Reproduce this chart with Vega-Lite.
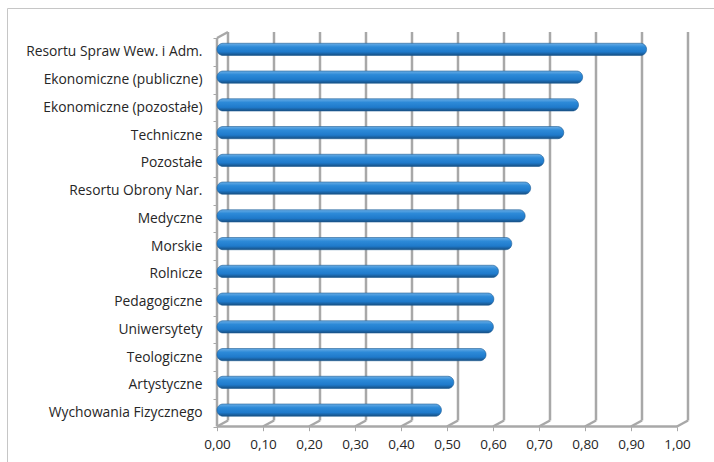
{
  "$schema": "https://vega.github.io/schema/vega-lite/v6.json",
  "autosize": "none",
  "padding": {"left": 7, "top": 8, "right": 0, "bottom": 0},
  "width": 720,
  "height": 470,
  "background": "white",
  "config": {
    "view": {"stroke": "#c6c6c6", "strokeWidth": 1},
    "font": "Open Sans"
  },
  "datasets": {
    "bars": [
      {"kategoria": "Resortu Spraw Wew. i Adm.", "wartosc": 0.923},
      {"kategoria": "Ekonomiczne (publiczne)", "wartosc": 0.784},
      {"kategoria": "Ekonomiczne (pozostałe)", "wartosc": 0.775},
      {"kategoria": "Techniczne", "wartosc": 0.743},
      {"kategoria": "Pozostałe", "wartosc": 0.700},
      {"kategoria": "Resortu Obrony Nar.", "wartosc": 0.671},
      {"kategoria": "Medyczne", "wartosc": 0.659},
      {"kategoria": "Morskie", "wartosc": 0.630},
      {"kategoria": "Rolnicze", "wartosc": 0.601},
      {"kategoria": "Pedagogiczne", "wartosc": 0.591},
      {"kategoria": "Uniwersytety", "wartosc": 0.590},
      {"kategoria": "Teologiczne", "wartosc": 0.574},
      {"kategoria": "Artystyczne", "wartosc": 0.504},
      {"kategoria": "Wychowania Fizycznego", "wartosc": 0.477}
    ],
    "ticks": [
      {"t": 0}, {"t": 0.1}, {"t": 0.2}, {"t": 0.3}, {"t": 0.4}, {"t": 0.5},
      {"t": 0.6}, {"t": 0.7}, {"t": 0.8}, {"t": 0.9}, {"t": 1.0}
    ],
    "wall": [{"sciana": "lewa"}]
  },
  "layer": [
    {
      "data": {"name": "bars"},
      "mark": {
        "type": "bar",
        "height": {"band": 0.44},
        "opacity": 0
      },
      "encoding": {
        "y": {
          "field": "kategoria",
          "type": "nominal",
          "scale": {
            "domain": ["Resortu Spraw Wew. i Adm.", "Ekonomiczne (publiczne)", "Ekonomiczne (pozostałe)", "Techniczne", "Pozostałe", "Resortu Obrony Nar.", "Medyczne", "Morskie", "Rolnicze", "Pedagogiczne", "Uniwersytety", "Teologiczne", "Artystyczne", "Wychowania Fizycznego"],
            "range": [30, 418.5],
            "paddingInner": 0, "paddingOuter": 0
          },
          "axis": {
            "title": null,
            "offset": -210,
            "domain": false,
            "tickBand": "extent",
            "tickSize": 4,
            "tickColor": "#a8a8a8",
            "tickWidth": 1,
            "labelPadding": 11,
            "labelFontSize": 13.8,
            "labelColor": "#262626",
            "labelFont": "Open Sans"
          }
        },
        "x": {
          "field": "wartosc",
          "type": "quantitative",
          "scale": {"domain": [-0.45652, 1.1087], "nice": false, "zero": false},
          "axis": {
            "title": null,
            "offset": -51.3,
            "values": [0, 0.1, 0.2, 0.3, 0.4, 0.5, 0.6, 0.7, 0.8, 0.9, 1.0],
            "labelExpr": "replace(format(datum.value, '.2f'), '.', ',')",
            "grid": false,
            "domain": false,
            "tickSize": 4,
            "tickColor": "#a8a8a8",
            "labelPadding": 7,
            "labelFontSize": 13.5,
            "labelColor": "#262626",
            "labelFont": "Open Sans"
          }
        },
        "x2": {"datum": 0}
      }
    },
    {
      "data": {"name": "ticks"},
      "mark": {"type": "rule", "color": "#a8a8a8", "strokeWidth": 2.5, "xOffset": 11, "yOffset": -6, "y2Offset": -6},
      "encoding": {
        "x": {"field": "t", "type": "quantitative"},
        "y": {"datum": "Resortu Spraw Wew. i Adm.", "type": "nominal", "bandPosition": 0},
        "y2": {"datum": "Wychowania Fizycznego", "bandPosition": 1}
      }
    },
    {
      "data": {"name": "ticks"},
      "mark": {"type": "rule", "color": "#a8a8a8", "strokeWidth": 2.5, "x2Offset": 11, "y2Offset": -6},
      "encoding": {
        "x": {"field": "t", "type": "quantitative"},
        "x2": {"field": "t"},
        "y": {"datum": "Wychowania Fizycznego", "type": "nominal", "bandPosition": 1},
        "y2": {"datum": "Wychowania Fizycznego", "bandPosition": 1}
      }
    },
    {
      "data": {"name": "wall"},
      "mark": {"type": "rule", "color": "#a8a8a8", "strokeWidth": 2.5},
      "encoding": {
        "x": {"datum": 0, "type": "quantitative"},
        "x2": {"datum": 1},
        "y": {"datum": "Wychowania Fizycznego", "type": "nominal", "bandPosition": 1},
        "y2": {"datum": "Wychowania Fizycznego", "bandPosition": 1}
      }
    },
    {
      "data": {"name": "wall"},
      "mark": {"type": "rule", "color": "#a8a8a8", "strokeWidth": 2.5},
      "encoding": {
        "x": {"datum": 0, "type": "quantitative"},
        "y": {"datum": "Resortu Spraw Wew. i Adm.", "type": "nominal", "bandPosition": 0},
        "y2": {"datum": "Wychowania Fizycznego", "bandPosition": 1}
      }
    },
    {
      "data": {"name": "wall"},
      "mark": {"type": "rule", "color": "#a8a8a8", "strokeWidth": 2.5, "x2Offset": 11, "y2Offset": -6},
      "encoding": {
        "x": {"datum": 0, "type": "quantitative"},
        "x2": {"datum": 0},
        "y": {"datum": "Resortu Spraw Wew. i Adm.", "type": "nominal", "bandPosition": 0},
        "y2": {"datum": "Resortu Spraw Wew. i Adm.", "bandPosition": 0}
      }
    },
    {
      "data": {"name": "bars"},
      "mark": {
        "type": "bar",
        "height": {"band": 0.44},
        "xOffset": 5,
        "yOffset": -2.5,
        "cornerRadius": 6,
        "stroke": "#1d5a92",
        "strokeWidth": 0.6,
        "color": {
          "gradient": "linear",
          "x1": 0, "y1": 0, "x2": 0, "y2": 1,
          "stops": [
            {"offset": 0, "color": "#6aaee6"},
            {"offset": 0.3, "color": "#2d8ad8"},
            {"offset": 0.7, "color": "#1f7acb"},
            {"offset": 1, "color": "#174f82"}
          ]
        }
      },
      "encoding": {
        "y": {"field": "kategoria", "type": "nominal"},
        "x": {"field": "wartosc", "type": "quantitative"},
        "x2": {"datum": 0}
      }
    }
  ]
}
